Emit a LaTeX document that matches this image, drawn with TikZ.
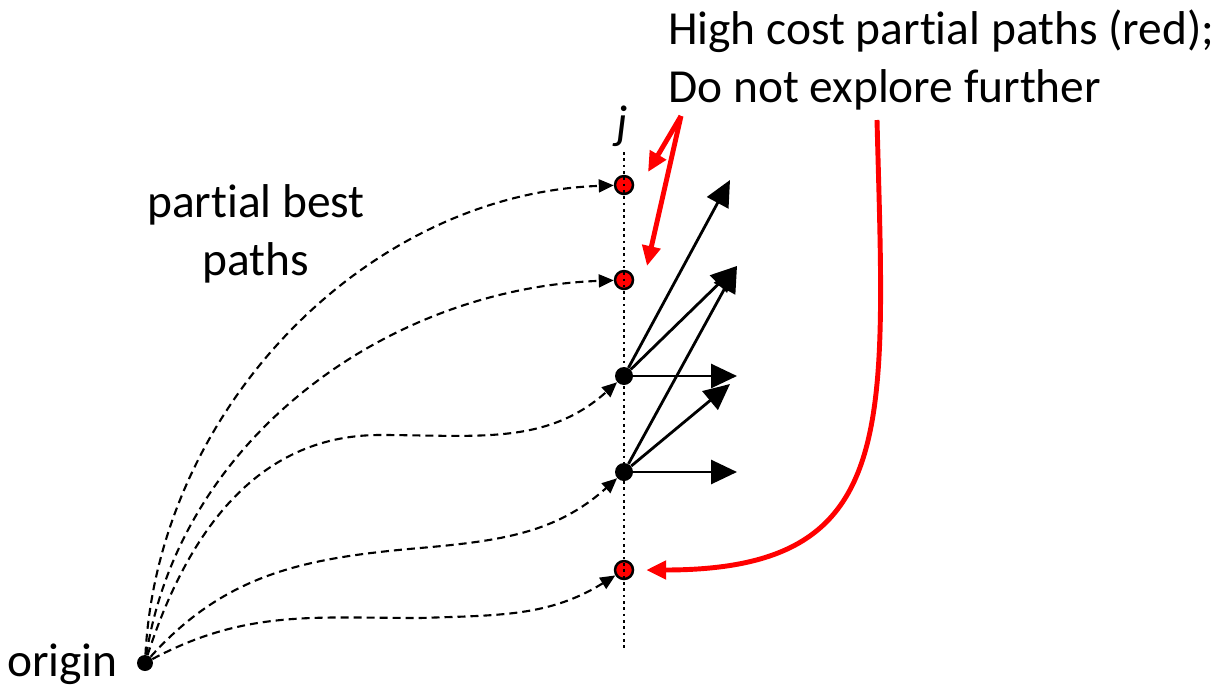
\documentclass[tikz,border=0pt]{standalone}
\usepackage{fontspec}
\setmainfont[Ligatures=CommonOff]{Carlito}
\usetikzlibrary{arrows.meta}
\begin{document}
\begin{tikzpicture}[x=0.02cm,y=-0.02cm,
  every node/.style={font=\fontsize{27}{33}\selectfont},
  bdot/.style={circle,fill=black,inner sep=0pt,minimum size=0.36cm},
  rdot/.style={circle,fill=red,draw=black,line width=1.4pt,inner sep=0pt,minimum size=0.36cm},
  dpath/.style={dashed,dash pattern=on 0.16cm off 0.1cm,line width=1.2pt,-{Triangle[length=0.3cm,width=0.26cm]}},
  spath/.style={line width=1.6pt,-{Triangle[length=0.52cm,width=0.48cm]}},
  rpath/.style={red,line width=2.8pt,-{Triangle[length=0.4cm,width=0.36cm]}}]
\useasboundingbox (0,0) rectangle (1224,690);
% nodes on column j
\node[bdot,minimum size=0.32cm] (o) at (145,663) {};
\node[anchor=east] (ol) at (124,664) {origin};
\node[rdot] (r1) at (624,185) {};
\node[rdot] (r2) at (624,280) {};
\node[bdot] (b1) at (624,376) {};
\node[bdot] (b2) at (624,472) {};
\node[rdot] (r3) at (624,570) {};
\coordinate (jt) at (624,152);
\coordinate (jb) at (624,650);
\draw[line width=1.5pt,dash pattern=on 1.5pt off 2.1pt] (jt) -- (jb);
\node[font=\fontsize{27}{33}\selectfont\itshape] (j) at (622,126) {j};
% labels
\node[align=center] (pb) at (256,234) {partial best\\paths};
\node[anchor=west,align=left] (hc) at (662,60) {High cost partial paths (red);\\Do not explore further};
% partial best paths
\draw[dpath] (o) to[out=87,in=182,looseness=0.95] (r1);
\draw[dpath] (o) to[out=81,in=182,looseness=0.95] (r2);
\draw[dpath] (o) to[out=72,in=180] (380,435) to[out=0,in=222] (b1);
\draw[dpath] (o) to[out=48,in=185] (420,548) to[out=5,in=222] (b2);
\draw[dpath] (o) to[out=28,in=180] (420,618) to[out=2,in=212] (r3);
% extensions from the best paths
\coordinate (t1) at (730,180);
\coordinate (t2) at (737,266);
\coordinate (t3) at (737,376);
\coordinate (t4) at (730,384);
\coordinate (t5) at (737,472);
\draw[spath] (b1) -- (t1);
\draw[spath] (b1) -- (t2);
\draw[spath] (b1) -- (t3);
\draw[spath] (b2) -- (t2);
\draw[spath] (b2) -- (t4);
\draw[spath] (b2) -- (t5);
% high cost paths
\coordinate (rs) at (681,116);
\coordinate (re1) at (648,172);
\coordinate (re2) at (647,266);
\coordinate (rl) at (877,120);
\draw[rpath] (rs) -- (re1);
\draw[rpath] (rs) -- (re2);
\draw[rpath,shorten >=0.24cm] (rl) .. controls (885,430) and (900,570) .. (r3);
\end{tikzpicture}
\end{document}
